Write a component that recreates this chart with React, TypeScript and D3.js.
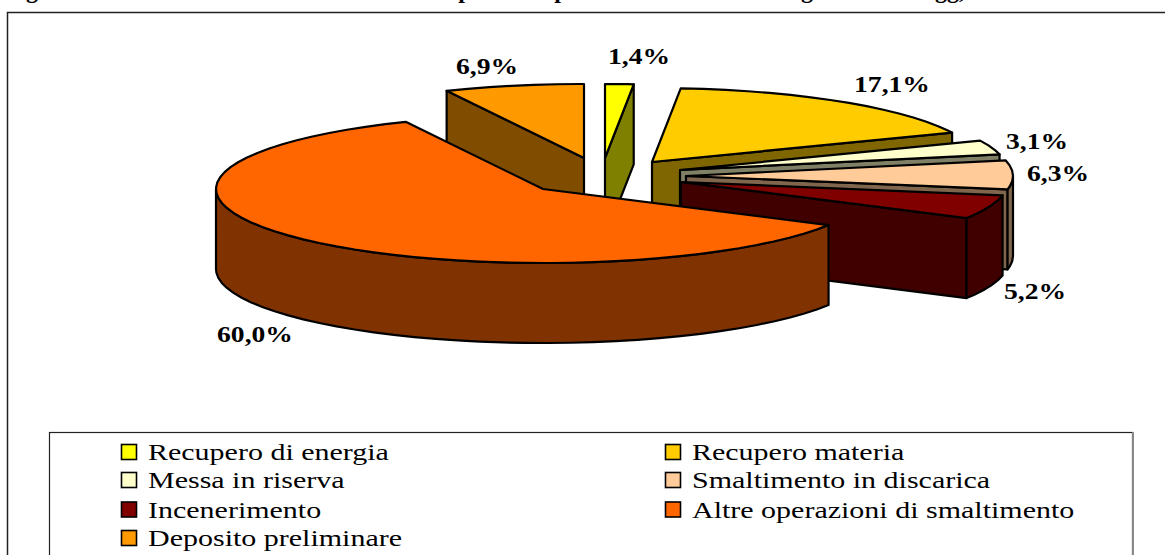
import React from "react";
import * as d3 from "d3";

// --- data ---
const categories = [
  "Recupero di energia",
  "Recupero materia",
  "Messa in riserva",
  "Smaltimento in discarica",
  "Incenerimento",
  "Altre operazioni di smaltimento",
  "Deposito preliminare",
];
const shares = [1.4, 17.1, 3.1, 6.3, 5.2, 60.0, 6.9];
const shareLabels = ["1,4%", "17,1%", "3,1%", "6,3%", "5,2%", "60,0%", "6,9%"];
const titleFragments = ["g", "p", "p", "g", "gg,"];

// --- styling and layout ---
const topColors = ["#FFFF00", "#FFCC00", "#FFFFCC", "#FFCC99", "#800000", "#FF6600", "#FF9900"];
const wallColors = ["#808000", "#806600", "#808066", "#80664D", "#400000", "#803300", "#804D00"];
const apexX = [605, 652, 680, 686, 681, 543, 584];
const apexY = [158, 162, 170, 176, 182, 189, 158];
const labelX = [639, 892, 1037, 1058, 1035, 255, 487];
const labelY = [64, 92, 149, 181, 299, 342, 74];
const drawOrder = [6, 0, 1, 2, 3, 4, 5];
const titleX = [32, 465, 561, 807, 950];
const legendRows = [452, 480, 509.5, 538];
const legendCols = [121, 665];
const RX = 327;
const RY = 74;
const DEPTH = 80;
const STEP = (4 * Math.PI) / 180;

const W = 1165;
const H = 555;

const arcs = d3
  .pie<number>()
  .sort(null)
  .startAngle(0)
  .endAngle(2 * Math.PI)(shares);

type P = [number, number];
const pathOf = d3.line<P>().x((p) => p[0]).y((p) => p[1]);

function rimPoint(i: number, a: number, drop = 0): P {
  return [apexX[i] + RX * Math.sin(a), apexY[i] - RY * Math.cos(a) + drop];
}
function sampleAngles(a0: number, a1: number): number[] {
  return [...d3.range(a0, a1, STEP), a1];
}

function Slice({ i }: { i: number }) {
  const { startAngle: a0, endAngle: a1 } = arcs[i];
  const apex: P = [apexX[i], apexY[i]];
  const apexLow: P = [apexX[i], apexY[i] + DEPTH];
  const stroke = { stroke: "#000", strokeWidth: 2.2, strokeLinejoin: "round" as const };
  const face = (a: number) =>
    pathOf([apex, rimPoint(i, a), rimPoint(i, a, DEPTH), apexLow])! + "Z";

  const frontStart = Math.max(a0, Math.PI / 2);
  const frontEnd = Math.min(a1, (3 * Math.PI) / 2);
  const rim =
    frontStart < frontEnd
      ? pathOf([
          ...sampleAngles(frontStart, frontEnd).map((a) => rimPoint(i, a)),
          ...sampleAngles(frontStart, frontEnd)
            .reverse()
            .map((a) => rimPoint(i, a, DEPTH)),
        ])! + "Z"
      : null;
  const top = pathOf([apex, ...sampleAngles(a0, a1).map((a) => rimPoint(i, a))])! + "Z";

  return (
    <g>
      {Math.sin(a0) < -1e-6 && <path d={face(a0)} fill={wallColors[i]} {...stroke} />}
      {Math.sin(a1) > 1e-6 && <path d={face(a1)} fill={wallColors[i]} {...stroke} />}
      {rim && <path d={rim} fill={wallColors[i]} {...stroke} />}
      <path d={top} fill={topColors[i]} {...stroke} />
    </g>
  );
}

export default function App() {
  const serif = "'Liberation Serif', serif";
  return (
    <svg
      width={W}
      height={H}
      viewBox={`0 0 ${W} ${H}`}
      style={{ position: "fixed", left: 0, top: 0, display: "block", background: "#fff" }}
    >
      {titleFragments.map((t, i) => (
        <text key={i} x={titleX[i]} y={-2} textAnchor="middle" fontFamily={serif} fontWeight="bold" fontSize={24} fill="#000">
          {t}
        </text>
      ))}
      <rect x={7.5} y={12.5} width={W + 20} height={H + 20} fill="#fff" stroke="#222" strokeWidth={1.5} />
      {drawOrder.map((i) => (
        <Slice key={i} i={i} />
      ))}
      {shareLabels.map((t, i) => (
        <text
          key={i}
          transform={`translate(${labelX[i]},${labelY[i]}) scale(1.2,1)`}
          textAnchor="middle"
          fontFamily={serif}
          fontWeight="bold"
          fontSize={23}
          fill="#000"
        >
          {t}
        </text>
      ))}
      <rect x={49.5} y={432.5} width={1083} height={H} fill="#fff" stroke="#222" strokeWidth={1.2} />
      <line x1={1133} x2={1133} y1={432} y2={H} stroke="#888" strokeWidth={2} />
      {categories.map((c, i) => {
        const x = legendCols[i % 2];
        const y = legendRows[Math.floor(i / 2)];
        return (
          <g key={c}>
            <rect x={x + 0.5} y={y - 7.5} width={15} height={15} fill={topColors[i]} stroke="#000" strokeWidth={1.6} />
            <text
              transform={`translate(${x + 27},${y + 8}) scale(1.25,1)`}
              fontFamily={serif}
              fontSize={24}
              fill="#000"
            >
              {c}
            </text>
          </g>
        );
      })}
    </svg>
  );
}
